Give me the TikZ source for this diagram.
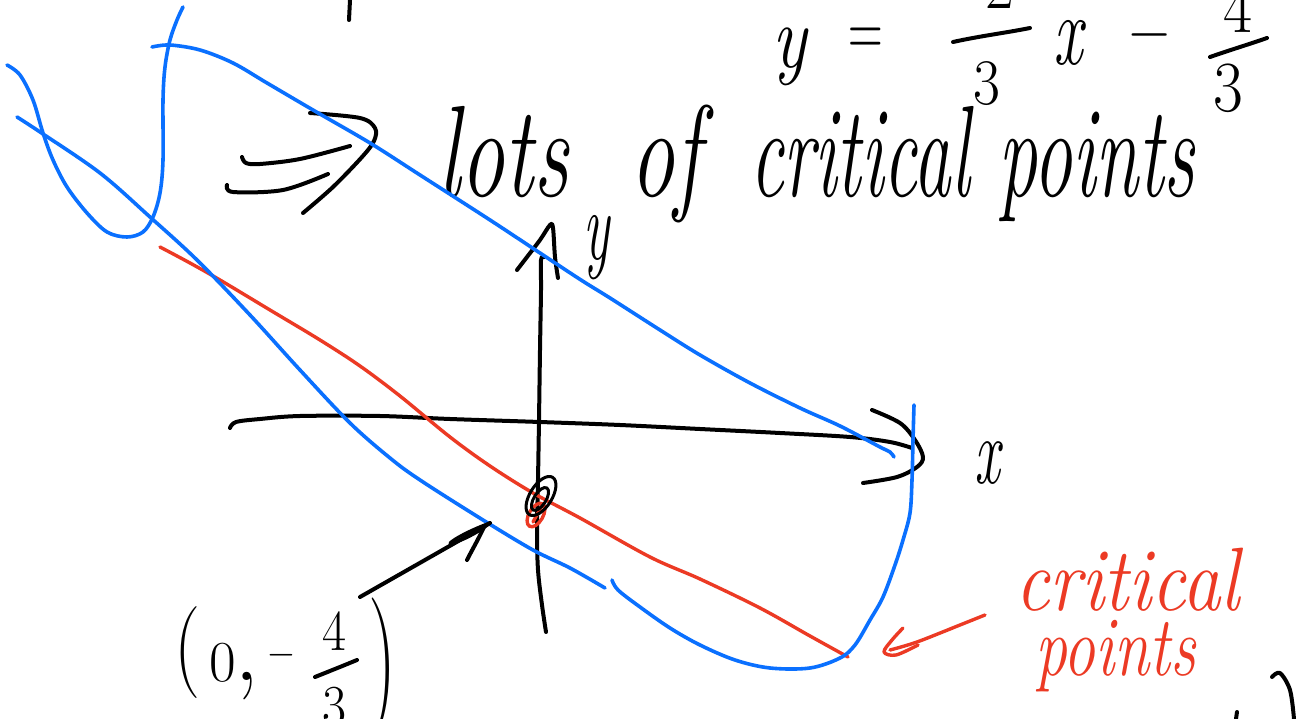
\documentclass[tikz,border=0pt]{standalone}
\usepackage{graphicx}
\definecolor{hblue}{RGB}{10,112,255}
\definecolor{hred}{RGB}{236,58,36}
\newcommand{\hwtext}[3]{\scalebox{#1}[1]{\fontsize{#2}{#2}\selectfont #3}}
\begin{document}
\begin{tikzpicture}[x=1pt,y=-1pt,
  pen/.style={line width=4pt,line cap=round,line join=round},
  ink/.style={pen,black},
  bluepen/.style={line width=3.6pt,line cap=round,line join=round,hblue},
  redpen/.style={line width=3.4pt,line cap=round,line join=round,hred},
  txt/.style={inner sep=0pt,outer sep=0pt},
  redtxt/.style={txt,text=hred},
  sm/.style={smooth,tension=0.55}]
\useasboundingbox (0,0) rectangle (1302,719);
\fill[white] (0,0) rectangle (1302,719);

% ---- texts ----
\node[txt,anchor=base west] (lotsa) at (438,197) {\hwtext{0.68}{130}{\itshape lots}};
\node[txt,anchor=base west] (lotsb) at (630,197) {\hwtext{0.68}{130}{\itshape of}};
\node[txt,anchor=base west] (lotsc) at (750,197) {\hwtext{0.575}{130}{\itshape critical}};
\node[txt,anchor=base west] (lotsd) at (998,197) {\hwtext{0.6}{130}{\itshape points}};
\node[txt,anchor=base] (xlab) at (987,483) {\hwtext{0.6}{95}{\itshape x}};
\node[txt,anchor=base] (ylab) at (597,260) {\hwtext{0.55}{100}{\itshape y}};
% equation y = -2/3 x - 4/3
\node[txt,anchor=base] (eqy) at (790,68) {\hwtext{0.8}{90}{\itshape y}};
\node[txt] (eqeq) at (866,42) {\hwtext{0.6}{80}{=}};
\node[txt] (eqmone) at (938,-1) {\hwtext{0.6}{60}{\char"2212}};
\node[txt,anchor=base] (eqnone) at (1000,9) {\hwtext{0.9}{70}{2}};
\node[txt,anchor=base] (eqdone) at (987,105) {\hwtext{0.9}{65}{3}};
\node[txt,anchor=base] (eqx) at (1068,65) {\hwtext{0.65}{100}{\itshape x}};
\node[txt] (eqmtwo) at (1150,43) {\hwtext{0.8}{70}{\char"2212}};
\node[txt,anchor=base] (eqntwo) at (1238,33) {\hwtext{0.9}{70}{4}};
\node[txt,anchor=base] (eqdtwo) at (1228,112) {\hwtext{0.9}{72}{3}};
% point label (0,-4/3)
\node[txt] (plo) at (188,653) {\hwtext{0.8}{92}{(}};
\node[txt,anchor=base] (pzero) at (223,681) {\hwtext{1}{58}{0}};
\node[txt,anchor=base] (pcomma) at (247,680) {\hwtext{1}{100}{,}};
\node[txt] (pminus) at (281,660) {\hwtext{0.8}{45}{\char"2212}};
\node[txt,anchor=base] (pnum) at (334,650) {\hwtext{0.9}{58}{4}};
\node[txt,anchor=base] (pden) at (334,725) {\hwtext{0.9}{58}{3}};
\node[txt] (prp) at (383,670) {\hwtext{0.55}{145}{)}};
% red label
\node[redtxt,anchor=base west] (crit) at (1015,610) {\hwtext{0.85}{90}{\itshape critical}};
\node[redtxt,anchor=base west] (pts) at (1035,675) {\hwtext{0.75}{85}{\itshape points}};

% fraction bars
\draw[ink] (953,42) .. controls (980,36) and (1005,33) .. (1030,28);
\draw[ink] (1210,57) .. controls (1230,50) and (1250,44) .. (1267,38);
\draw[ink] (315,677) .. controls (330,671) and (345,665) .. (357,660);

% top stray tick and bottom-right fragments
\draw[ink] (350,0) -- (349,20);
\draw[ink] plot[sm] coordinates {(1272,677) (1280,673) (1290,690) (1294,719)};
\draw[ink] (1237,712) -- (1236,719);

% ---- implication arrow ----
\draw[ink] plot[sm] coordinates {(242,157) (246,163) (260,164) (300,159) (350,146)};
\draw[ink] plot[sm] coordinates {(227,185) (233,192) (283,190) (328,174)};
\draw[ink] plot[sm] coordinates {(310,113) (360,118) (375,128) (374,141) (362,157) (333,187) (303,213)};

% ---- axes ----
\draw[ink] plot[sm] coordinates {(230,428) (236,422) (260,419) (300,416) (380,416) (450,419) (540,422) (620,425) (700,429) (780,433) (850,437) (890,442) (912,448)};
\draw[ink] plot[sm] coordinates {(872,410) (900,423) (915,440) (923,457) (917,467) (897,477) (863,483)};
\draw[ink] plot[sm] coordinates {(546,632) (542,605) (538,570) (537,530) (538,480) (539,420) (540,350) (541,290) (541,260) (544,257)};
\draw[ink] plot[sm] coordinates {(517,270) (527,257) (540,240) (550,225) (553,228) (555,257) (558,278)};

% ---- red line of critical points ----
\draw[redpen] plot[sm] coordinates {(160,247) (190,263) (220,280) (270,310) (320,340) (360,366) (400,396) (450,437) (490,466) (533,493) (580,518) (650,557) (700,579) (760,608) (810,636) (848,657)};

% ---- blue level curves ----
\draw[bluepen] plot[sm] coordinates {(152,47) (170,45) (200,50) (233,63) (267,83) (313,110) (370,143) (420,175) (490,220) (540,253) (581,280) (610,298) (660,330) (700,355) (750,383) (800,408) (840,426) (880,447) (890,452) (894,457)};
\draw[bluepen] plot[sm] coordinates {(183,7) (177,20) (170,40) (165,67) (163,100) (163,160) (160,193) (153,217) (143,232) (127,237) (107,232) (87,213) (67,187) (53,160) (43,133) (33,100) (20,75) (7,65)};
\draw[bluepen] plot[sm] coordinates {(17,117) (40,132) (100,173) (150,217) (197,260) (250,315) (300,370) (350,423) (390,458) (420,480) (483,520) (533,550) (570,568) (605,588)};
\draw[bluepen] plot[sm] coordinates {(612,580) (618,590) (640,607) (670,628) (700,645) (735,660) (770,668) (810,668) (840,658) (855,645) (870,620) (883,597) (895,565) (903,540) (910,513) (912,480) (913,440) (914,405)};

% ---- marked critical point ----
\coordinate (cp) at (541,496);
\draw[redpen,rotate around={60:(536,515)}] (536,515) ellipse [x radius=13, y radius=7];
\draw[redpen] (533,522) -- (543,504);
\draw[ink,line width=3pt,rotate around={58:(541,496)}] (541,496) ellipse [x radius=22, y radius=11];
\draw[ink,line width=3pt,rotate around={58:(540,499)}] (540,499) ellipse [x radius=13, y radius=6];

% ---- arrow to (0,-4/3) ----
\coordinate (astart) at (360,597);
\coordinate (atip) at (490,523);
\draw[ink] (astart) -- (atip);
\draw[ink,line width=3pt] (atip) .. controls (475,528) and (455,538) .. (450,543) .. controls (458,543) and (478,533) .. (atip);
\draw[ink] (484,527) .. controls (478,540) and (472,550) .. (467,560);

% ---- red arrow ----
\coordinate (rstart) at (985,615);
\coordinate (rtip) at (884,652);
\draw[redpen] plot[sm] coordinates {(rstart) (960,625) (917,642) (890,650)};
\draw[redpen] plot[sm] coordinates {(903,628) (892,640) (rtip) (896,655) (918,645)};
\end{tikzpicture}
\end{document}
